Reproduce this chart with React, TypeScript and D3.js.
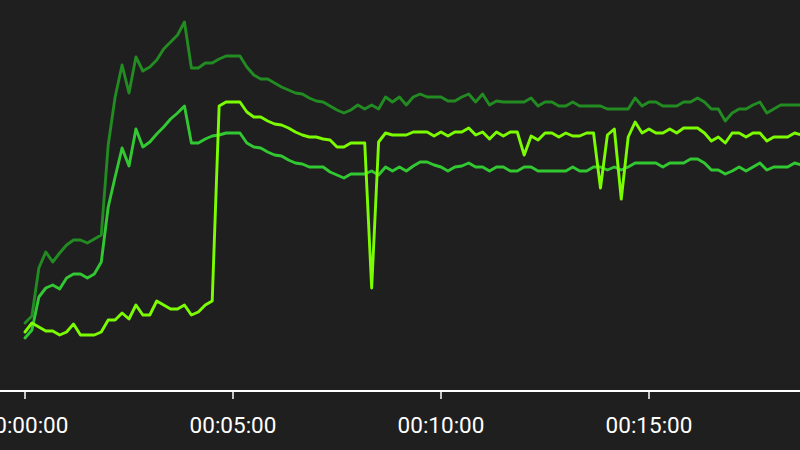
import React from "react";
import * as d3 from "d3";

// Sampling interval of the series (seconds)
const SAMPLE_INTERVAL_S = 10;

// Series values (arbitrary units), one sample every 10 s from 00:00:00
const seriesDark = [
  67, 74, 122, 138, 128, 137, 145, 150, 150, 147,
  151, 155, 245, 293, 325, 297, 333, 319, 323, 330,
  341, 348, 355, 368, 322, 322, 327, 327, 331, 334,
  334, 334, 323, 315, 311, 311, 307, 303, 300, 297,
  296, 292, 289, 288, 284, 280, 277, 280, 285, 281,
  285, 281, 293, 288, 293, 285, 293, 296, 293, 293,
  293, 289, 289, 293, 296, 288, 296, 285, 289, 288,
  288, 288, 288, 292, 284, 288, 288, 284, 284, 288,
  284, 284, 284, 284, 281, 281, 281, 281, 292, 284,
  288, 288, 284, 284, 284, 288, 288, 292, 288, 281,
  281, 269, 277, 281, 281, 285, 288, 277, 281, 285,
  285, 285, 285,
];

const seriesMedium = [
  52, 60, 93, 102, 105, 101, 112, 116, 116, 112,
  116, 128, 183, 213, 242, 224, 261, 243, 248, 256,
  263, 271, 277, 284, 247, 247, 251, 254, 255, 257,
  257, 257, 247, 243, 242, 238, 235, 234, 230, 227,
  226, 223, 223, 223, 218, 215, 212, 216, 216, 216,
  219, 215, 223, 219, 223, 219, 224, 228, 228, 225,
  223, 219, 223, 224, 227, 223, 223, 219, 223, 223,
  219, 219, 223, 223, 219, 219, 219, 219, 219, 223,
  219, 219, 223, 223, 220, 223, 220, 223, 227, 227,
  227, 227, 223, 227, 227, 227, 231, 231, 227, 220,
  220, 216, 219, 223, 219, 223, 227, 220, 223, 223,
  223, 227, 225,
];

const seriesBright = [
  58, 67, 63, 59, 59, 55, 58, 66, 55, 55,
  55, 58, 70, 70, 77, 71, 85, 75, 75, 89,
  85, 81, 81, 85, 75, 78, 85, 89, 284, 288,
  288, 288, 278, 273, 273, 269, 266, 265, 262, 258,
  255, 253, 253, 251, 250, 243, 243, 247, 247, 247,
  102, 248, 257, 255, 255, 255, 258, 258, 258, 254,
  258, 254, 258, 258, 262, 255, 258, 251, 258, 254,
  258, 258, 235, 254, 250, 257, 257, 253, 257, 254,
  254, 257, 257, 202, 255, 261, 191, 253, 268, 257,
  261, 257, 257, 261, 257, 262, 262, 262, 257, 249,
  253, 247, 257, 257, 253, 257, 257, 249, 253, 253,
  253, 257, 255,
];

const seriesColors = ["#228b22", "#32c832", "#7cfc00"];

// X ticks (seconds)
const tickSeconds = [0, 300, 600, 900];

const W = 800;
const H = 450;

function fmt(s: number) {
  const h = Math.floor(s / 3600);
  const m = Math.floor((s % 3600) / 60);
  const sec = s % 60;
  const p = (n: number) => String(n).padStart(2, "0");
  return `${p(h)}:${p(m)}:${p(sec)}`;
}

export default function App() {
  const axisY = 391;
  const x = d3.scaleLinear().domain([0, 300]).range([25, 233]);
  const y = d3.scaleLinear().domain([0, 390]).range([390, 0]);

  const line = d3
    .line<number>()
    .x((_, i) => x(i * SAMPLE_INTERVAL_S))
    .y((d) => y(d));

  const all = [seriesDark, seriesMedium, seriesBright];

  return (
    <div style={{ position: "absolute", left: 0, top: 0 }}>
      <svg width={W} height={H} style={{ display: "block" }}>
        <rect x={0} y={0} width={W} height={H} fill="#1f1f1f" />
        {all.map((s, k) => (
          <path
            key={k}
            d={line(s) || ""}
            fill="none"
            stroke={seriesColors[k]}
            strokeWidth={2.9}
            strokeLinejoin="round"
            strokeLinecap="round"
          />
        ))}
        <line x1={0} x2={W} y1={axisY} y2={axisY} stroke="#ffffff" strokeWidth={2} />
        {tickSeconds.map((t) => (
          <g key={t} transform={`translate(${x(t)},0)`}>
            <line y1={axisY} y2={axisY + 8} stroke="#ffffff" strokeWidth={1.5} />
            <text
              y={432.5}
              textAnchor="middle"
              fill="#ffffff"
              fontFamily="Roboto, sans-serif"
              fontSize={22.5}
            >
              {fmt(t)}
            </text>
          </g>
        ))}
      </svg>
    </div>
  );
}
